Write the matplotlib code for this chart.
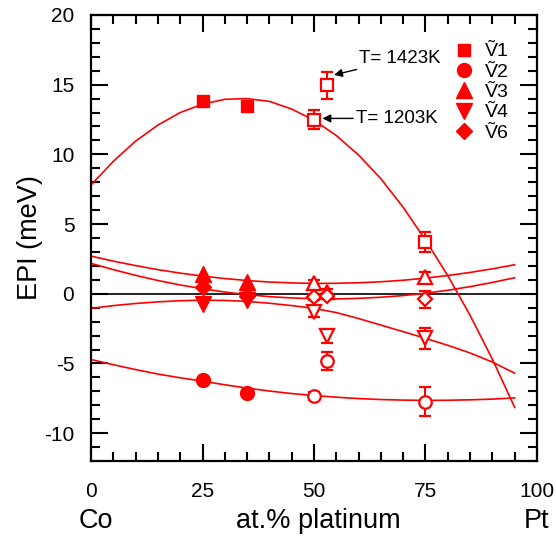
import numpy as np
import matplotlib
matplotlib.use("Agg")
import matplotlib.pyplot as plt
from matplotlib.ticker import MultipleLocator

plt.rcParams['font.family'] = ['Liberation Sans', 'DejaVu Sans']
plt.rcParams['axes.unicode_minus'] = False

#%% data
# filled symbols (x = 25, 35 at.% Pt)
x_fill = [25, 35]
v1_fill = [13.8, 13.5]
v2_fill = [-6.2, -7.15]
v3_fill = [1.45, 0.85]
v4_fill = [-0.75, -0.45]
v6_fill = [0.45, -0.15]

# open symbols with error bars (x = 50, 53, 75)
x_open = [50, 53, 75]
v1_open = [12.5, 14.95, 3.73]
v1_err = [0.65, 0.98, 0.7]
v2_open = [-7.35, -4.8, -7.75]
v2_err = [0.3, 0.65, 1.05]
v3_open = [0.78, 0.14, 1.17]
v3_err = [0.2, 0.2, 0.4]
v4_open = [-1.3, -3.05, -3.2]
v4_err = [0.35, 0.5, 0.75]
v6_open = [-0.22, -0.17, -0.39]
v6_err = [0.2, 0.2, 0.6]

# fitted curves, read every 5 at.%
x_fit = [0, 5, 10, 15, 20, 25, 30, 35, 40, 45, 50, 55, 60, 65, 70, 75, 80, 85, 90, 95]
v1_fit = [7.8, 9.5, 10.95, 12.1, 13.0, 13.6, 13.95, 14.0, 13.8, 13.25,
          12.45, 11.35, 9.95, 8.25, 6.2, 3.85, 1.3, -1.55, -4.7, -8.15]
v2_fit = [-4.72, -5.09, -5.44, -5.76, -6.03, -6.27, -6.53, -6.77, -6.98, -7.16,
          -7.3, -7.42, -7.52, -7.59, -7.63, -7.65, -7.64, -7.61, -7.56, -7.47]
v3_fit = [2.7, 2.34, 2.02, 1.73, 1.48, 1.27, 1.09, 0.95, 0.84, 0.78,
          0.74, 0.75, 0.79, 0.86, 0.97, 1.12, 1.31, 1.53, 1.79, 2.08]
v4_fit = [-1.05, -0.85, -0.7, -0.58, -0.5, -0.46, -0.48, -0.55, -0.68, -0.85,
          -1.05, -1.35, -1.78, -2.25, -2.72, -3.2, -3.7, -4.25, -4.9, -5.7]
v6_fit = [2.18, 1.73, 1.32, 0.95, 0.63, 0.36, 0.12, -0.06, -0.21, -0.3,
          -0.36, -0.37, -0.33, -0.25, -0.13, 0.04, 0.25, 0.51, 0.81, 1.15]

labels = ['\u1E7C1', '\u1E7C2', '\u1E7C3', '\u1E7C4', '\u1E7C6']

#%%
red = '#ff0000'
fig = plt.figure(figsize=(5.56, 5.37), dpi=100)
ax = fig.add_axes([0.1637, 0.1415, 0.8021, 0.8306])

ax.axhline(0, color='k', lw=1.2, zorder=1)

fits = [v1_fit, v2_fit, v3_fit, v4_fit, v6_fit]
for f in fits:
    ax.plot(x_fit, f, color=red, lw=1.2, zorder=2)

markers = ['s', 'o', '^', 'v', 'D']
sizes = [8.5, 10, 11, 11, 8.5]
fills = [v1_fill, v2_fill, v3_fill, v4_fill, v6_fill]
opens = [v1_open, v2_open, v3_open, v4_open, v6_open]
errs = [v1_err, v2_err, v3_err, v4_err, v6_err]
open_sizes = [8, 9, 9.5, 9.5, 7.5]

for i in range(5):
    ax.plot(x_fill, fills[i], ls='none', marker=markers[i], ms=sizes[i],
            color=red, mec=red, label=labels[i], zorder=4)
    ax.errorbar(x_open, opens[i], yerr=errs[i], fmt=markers[i], ms=open_sizes[i],
                mfc='white', mec=red, mew=1.6, ecolor=red, elinewidth=1.5,
                capsize=4.5, capthick=1.5, zorder=3)

ax.annotate('T= 1423K', xy=(54.5, 15.7), xytext=(60.2, 16.85),
            fontsize=13.5, ha='left', va='center',
            arrowprops=dict(arrowstyle='-|>', color='k', lw=1, mutation_scale=12,
                            shrinkA=0, shrinkB=0))
ax.annotate('T= 1203K', xy=(51.9, 12.58), xytext=(59.4, 12.58),
            fontsize=13.5, ha='left', va='center',
            arrowprops=dict(arrowstyle='-|>', color='k', lw=1, mutation_scale=12,
                            shrinkA=0, shrinkB=0))

ax.legend(loc='upper right', bbox_to_anchor=(0.955, 0.955), frameon=False, numpoints=1,
          fontsize=14, handlelength=1.0, handletextpad=0.6, labelspacing=0.14,
          borderaxespad=0)

ax.set_xlim(0, 100)
ax.set_ylim(-12, 20)
ax.xaxis.set_major_locator(MultipleLocator(25))
ax.xaxis.set_minor_locator(MultipleLocator(5))
ax.yaxis.set_major_locator(MultipleLocator(5))
ax.yaxis.set_minor_locator(MultipleLocator(1))
ax.tick_params(which='both', direction='in', top=True, right=True, width=1.5,
               labelsize=15)
ax.tick_params(which='major', length=12, pad=12)
ax.tick_params(which='minor', length=6.5)
ax.tick_params(axis='x', which='major', pad=15)
for s in ax.spines.values():
    s.set_linewidth(1.6)

ax.set_ylabel('EPI (meV)', fontsize=19.5, labelpad=1)
tr = ax.get_xaxis_transform()
ax.text(1, -0.15, 'Co', transform=tr, fontsize=19.5, ha='center', va='baseline')
ax.text(51, -0.15, 'at.% platinum', transform=tr, fontsize=19.5, ha='center', va='baseline')
ax.text(100, -0.15, 'Pt', transform=tr, fontsize=19.5, ha='center', va='baseline')

plt.savefig('out.png', dpi=100)
plt.close()
